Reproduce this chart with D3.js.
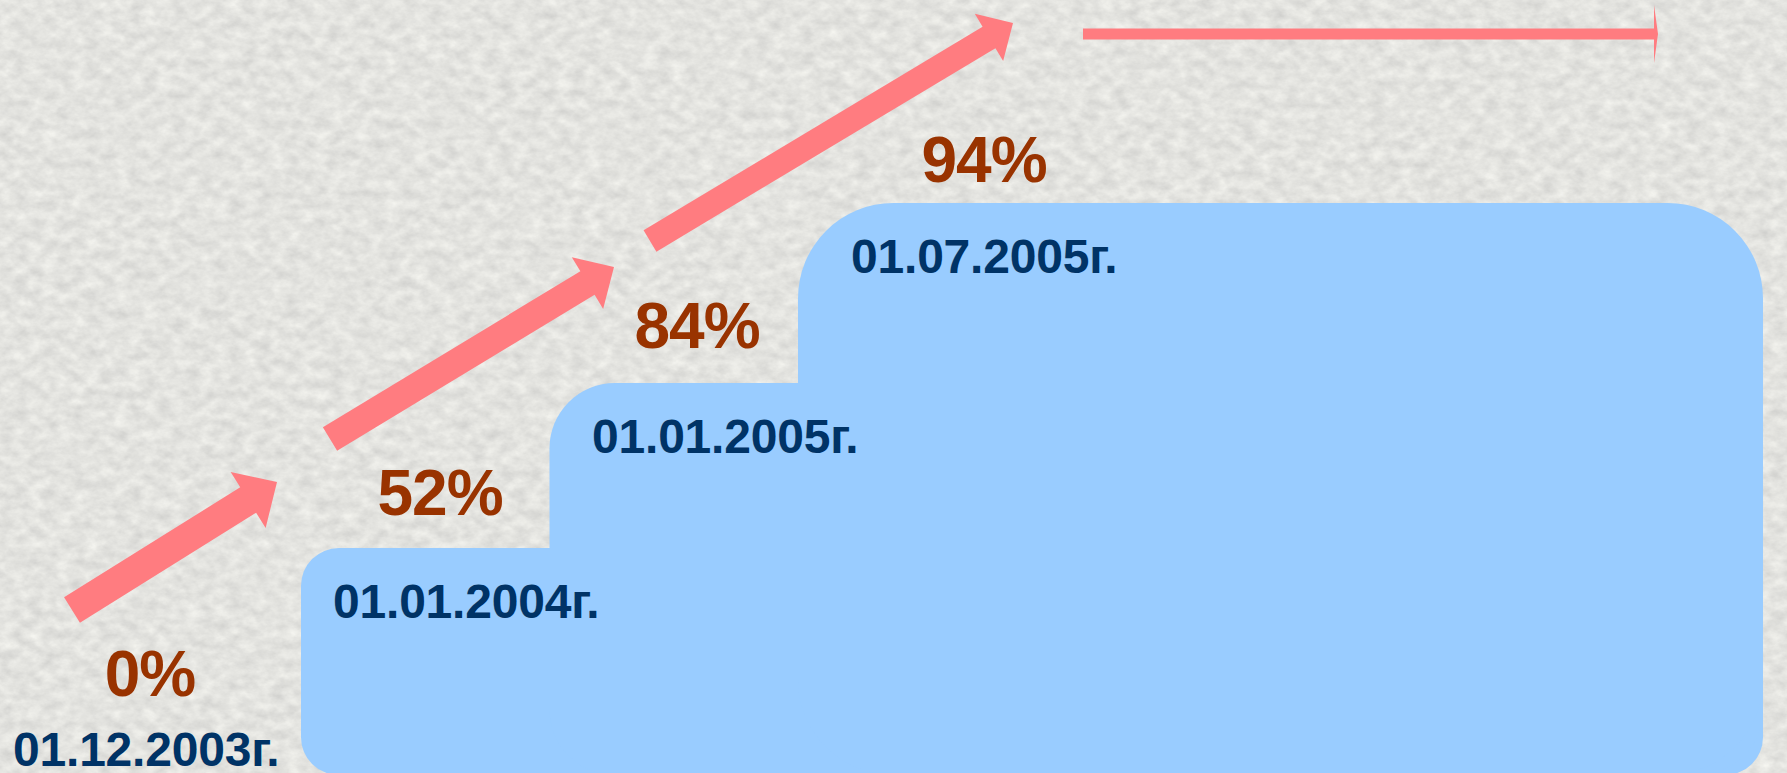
<!DOCTYPE html>
<html>
<head>
<meta charset="utf-8">
<script src="https://cdnjs.cloudflare.com/ajax/libs/d3/7.8.5/d3.min.js"></script>
<style>
  html, body { margin: 0; padding: 0; background: #e3e3df; overflow: hidden; }
  svg { display: block; }
</style>
</head>
<body>
<div id="chart"></div>
<script>
// stages of the rollout
var dates = ['01.12.2003г.', '01.01.2004г.', '01.01.2005г.', '01.07.2005г.'];
var shares = [0, 52, 84, 94];
var shareLabels = shares.map(function (v) { return v + '%'; });

var width = 1787;
var height = 773;
var stages = d3.range(dates.length);

var svg = d3.select('#chart').append('svg')
  .attr('width', width)
  .attr('height', height)
  .attr('viewBox', '0 0 ' + width + ' ' + height);

// paper-like grey texture
var defs = svg.append('defs');
var filter = defs.append('filter')
  .attr('id', 'paper')
  .attr('x', 0).attr('y', 0).attr('width', '100%').attr('height', '100%')
  .attr('color-interpolation-filters', 'sRGB');
filter.append('feTurbulence')
  .attr('type', 'fractalNoise')
  .attr('baseFrequency', '0.07 0.1')
  .attr('numOctaves', 4)
  .attr('seed', 7);
filter.append('feColorMatrix')
  .attr('type', 'matrix')
  .attr('values', '0.16 0 0 0 0.81  0.16 0 0 0 0.81  0.15 0 0 0 0.80  0 0 0 0 1');

svg.append('rect')
  .attr('width', width)
  .attr('height', height)
  .attr('filter', 'url(#paper)');

// layout scales (stage index -> pixels)
var stepLeft = d3.scaleLinear().domain([1, 3]).range([301, 798]);
var stepTop = d3.scaleLinear().domain([1, 2, 3]).range([548, 383, 203]);
var stepRight = 1763;
var stepBottom = 775;

var dateX = d3.scaleLinear().domain([0, 1, 3]).range([13, 333, 851]);
var dateY = function (i) { return i === 0 ? 766 : stepTop(i) + 70; };

var shareX = d3.scaleLinear().domain([0, 1, 2, 3]).range([150, 440, 697, 984]);
var shareY = d3.scaleLinear().domain([0, 1, 2, 3]).range([696, 515, 348, 182]);

// steps, drawn back to front
svg.append('g')
  .selectAll('rect')
  .data(stages.slice(1))
  .enter()
  .append('rect')
  .attr('x', function (d) { return stepLeft(d); })
  .attr('y', function (d) { return stepTop(d); })
  .attr('width', function (d) { return stepRight - stepLeft(d); })
  .attr('height', function (d) { return stepBottom - stepTop(d); })
  .attr('rx', function (d) {
    return 0.1667 * Math.min(stepRight - stepLeft(d), stepBottom - stepTop(d));
  })
  .style('fill', '#99ccff');

// arrows between stages
var tailX = d3.scaleLinear().domain([0, 1, 2]).range([72, 330, 650]);
var tailY = d3.scaleLinear().domain([0, 1, 2]).range([610, 439, 241]);
var tipX = d3.scaleLinear().domain([0, 1, 2]).range([277, 614, 1013]);
var tipY = d3.scaleLinear().domain([0, 1, 2]).range([482, 267, 23]);
var shaft = d3.scaleLinear().domain([0, 2]).range([30, 25]);
var head = d3.scaleLinear().domain([0, 2]).range([66, 55]);
var headLen = d3.scaleLinear().domain([0, 2]).range([34, 28]);

function arrowPath(x1, y1, x2, y2, sw, hw, hl) {
  var len = Math.hypot(x2 - x1, y2 - y1);
  var a = Math.atan2(y2 - y1, x2 - x1);
  var pts = [
    [0, -sw / 2], [len - hl, -sw / 2], [len - hl, -hw / 2], [len, 0],
    [len - hl, hw / 2], [len - hl, sw / 2], [0, sw / 2]
  ].map(function (p) {
    return [
      x1 + p[0] * Math.cos(a) - p[1] * Math.sin(a),
      y1 + p[0] * Math.sin(a) + p[1] * Math.cos(a)
    ];
  });
  return 'M' + pts.join('L') + 'Z';
}

var arrows = stages.slice(0, -1).map(function (i) {
  return arrowPath(tailX(i), tailY(i), tipX(i), tipY(i), shaft(i), head(i), headLen(i));
});
// flat arrow after the last stage
arrows.push(arrowPath(1083, 34, 1658, 34, 11, 58, 4));

svg.append('g')
  .selectAll('path')
  .data(arrows)
  .enter()
  .append('path')
  .attr('d', function (d) { return d; })
  .style('fill', '#ff7c80');

// date labels
svg.append('g')
  .selectAll('text')
  .data(stages)
  .enter()
  .append('text')
  .attr('x', function (d) { return dateX(d); })
  .attr('y', function (d) { return dateY(d); })
  .style('font-family', '"Liberation Sans", Arial, sans-serif')
  .style('font-weight', 'bold')
  .style('font-size', '48px')
  .style('letter-spacing', '-0.2px')
  .style('fill', '#003366')
  .text(function (d) { return dates[d]; });

// share labels
svg.append('g')
  .selectAll('text')
  .data(stages)
  .enter()
  .append('text')
  .attr('x', function (d) { return shareX(d); })
  .attr('y', function (d) { return shareY(d); })
  .attr('text-anchor', 'middle')
  .style('font-family', '"Liberation Sans", Arial, sans-serif')
  .style('font-weight', 'bold')
  .style('font-size', '64px')
  .style('letter-spacing', '-1px')
  .style('fill', '#993300')
  .text(function (d) { return shareLabels[d]; });
</script>
</body>
</html>
